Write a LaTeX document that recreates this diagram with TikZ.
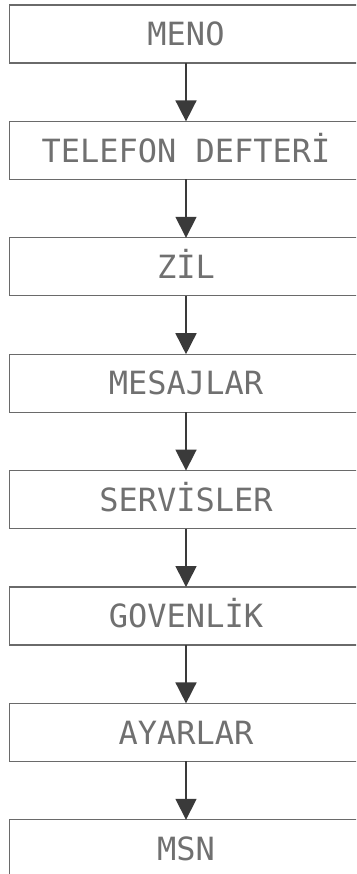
\documentclass[tikz,border=0pt]{standalone}
\usepackage{fontspec}
\newfontfamily\dotfont{DejaVu Sans Mono}
\usetikzlibrary{positioning,arrows.meta}

\definecolor{boxline}{HTML}{6A6A6A}
\definecolor{arrowline}{HTML}{3A3A3A}
\definecolor{dottext}{HTML}{707070}

\tikzset{
  menubox/.style={draw=boxline,line width=1.3pt,minimum width=353pt,minimum height=58pt,
    inner sep=0pt,outer sep=0pt,text height=23.3pt,text depth=0pt,
    font=\dotfont\fontsize{32}{32}\selectfont,text=dottext},
  menuarrow/.style={draw=arrowline,line width=1.6pt,-{Triangle[width=21pt,length=21pt]}}
}

\begin{document}
\begin{tikzpicture}[x=1pt,y=-1pt,node distance=58.4pt]
      \useasboundingbox (0,0) rectangle (356,874);
      \clip (0,0) rectangle (356,874);
      \node[menubox,anchor=north] (menu) at (186,5) {MENO};
      \node[menubox,below=of menu] (rehber) {TELEFON DEFTERİ};
      \node[menubox,below=of rehber] (zil) {ZİL};
      \node[menubox,below=of zil] (mesaj) {MESAJLAR};
      \node[menubox,below=of mesaj] (servis) {SERVİSLER};
      \node[menubox,below=of servis] (guven) {GOVENLİK};
      \node[menubox,below=of guven] (ayar) {AYARLAR};
      \node[menubox,below=of ayar] (msn) {MSN};
      \begin{scope}[menuarrow]
        \draw (menu) -- (rehber);
        \draw (rehber) -- (zil);
        \draw (zil) -- (mesaj);
        \draw (mesaj) -- (servis);
        \draw (servis) -- (guven);
        \draw (guven) -- (ayar);
        \draw (ayar) -- (msn);
      \end{scope}
    \end{tikzpicture}
\end{document}
